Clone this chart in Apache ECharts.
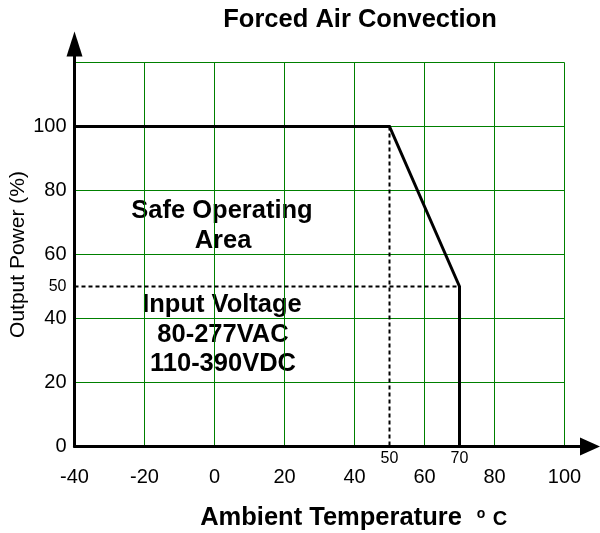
<!DOCTYPE html>
<html>
<head>
<meta charset="utf-8">
<script src="https://cdn.jsdelivr.net/npm/echarts@6/dist/echarts.min.js"></script>
<style>
html, body { margin: 0; padding: 0; background: #fff; }
#main { width: 600px; height: 533px; }
</style>
</head>
<body>
<div id="main"></div>
<script>
// derating curve
var curveTemp = [-40, 50, 70, 70];
var curvePower = [100, 100, 50, 0];
// dotted guide lines
var dropTemp = [50, 50];
var dropPower = [100, 0];
var halfTemp = [-40, 70];
var halfPower = [50, 50];
// tick labels (small ones drawn smaller)
var tempTicks = [-40, -20, 0, 20, 40, 50, 60, 70, 80, 100];
var powerTicks = [0, 20, 40, 50, 60, 80, 100];
var smallTemps = [50, 70];
var smallPowers = [50];

var FONT = '"Liberation Sans", Arial, sans-serif';
var GREEN = '#008000';

function pairs(xs, ys) {
    var out = [];
    xs.forEach(function (x, i) { out.push([x, ys[i]]); });
    return out;
}

var chart = echarts.init(document.getElementById('main'));

// grid sized so every grid line lands on a pixel centre (70px / 64px per step)
var option = {
    animation: false,
    backgroundColor: '#fff',
    grid: [
        {left: 74.5, right: 35.5, top: 62.5, bottom: 86.5, outerBoundsMode: 'none'},
        {left: 74.5, right: 10, top: 44, bottom: 86.5, outerBoundsMode: 'none'}
    ],
    xAxis: [
        {
            gridIndex: 0, type: 'value', min: -40, max: 100, interval: 20,
            axisLine: {show: false}, axisTick: {show: false},
            splitLine: {show: true, lineStyle: {color: GREEN, width: 1}},
            axisLabel: {
                customValues: tempTicks, margin: 5, color: '#000', fontFamily: FONT,
                formatter: function (v) {
                    if (smallTemps.indexOf(v) >= 0) return '{s|' + v + '}\n{b| }';
                    return '{s| }\n{b|' + v + '}';
                },
                rich: {
                    s: {fontSize: 16, lineHeight: 15, fontFamily: FONT, color: '#000'},
                    b: {fontSize: 20, lineHeight: 22, fontFamily: FONT, color: '#000'}
                }
            }
        },
        {
            gridIndex: 1, type: 'value', min: 0, max: 1,
            axisLine: {show: true, onZero: false, symbol: ['none', 'triangle'], symbolSize: [18, 20],
                lineStyle: {color: '#000', width: 3}},
            axisTick: {show: false}, axisLabel: {show: false}, splitLine: {show: false}
        }
    ],
    yAxis: [
        {
            gridIndex: 0, type: 'value', min: 0, max: 120, interval: 20,
            axisLine: {show: false}, axisTick: {show: false},
            splitLine: {show: true, lineStyle: {color: GREEN, width: 1}},
            axisLabel: {
                customValues: powerTicks, margin: 8, color: '#000', fontFamily: FONT, fontSize: 20,
                formatter: function (v) {
                    return smallPowers.indexOf(v) >= 0 ? '{s|' + v + '}' : String(v);
                },
                rich: {s: {fontSize: 16, fontFamily: FONT, color: '#000'}}
            },
            name: 'Output Power (%)', nameLocation: 'middle', nameGap: 46, nameMoveOverlap: false,
            nameTextStyle: {fontSize: 21, color: '#000', fontFamily: FONT}
        },
        {
            gridIndex: 1, type: 'value', min: 0, max: 1,
            axisLine: {show: true, onZero: false, symbol: ['none', 'triangle'], symbolSize: [16, 25],
                lineStyle: {color: '#000', width: 3}},
            axisTick: {show: false}, axisLabel: {show: false}, splitLine: {show: false}
        }
    ],
    series: [
        {
            type: 'line', xAxisIndex: 0, yAxisIndex: 0, symbol: 'none', z: 5,
            data: pairs(dropTemp, dropPower),
            lineStyle: {color: '#000', width: 2, type: [4, 3]}
        },
        {
            type: 'line', xAxisIndex: 0, yAxisIndex: 0, symbol: 'none', z: 5,
            data: pairs(halfTemp, halfPower),
            lineStyle: {color: '#000', width: 2, type: [4, 3]}
        },
        {
            type: 'line', xAxisIndex: 0, yAxisIndex: 0, symbol: 'none', z: 6,
            data: pairs(curveTemp, curvePower),
            lineStyle: {color: '#000', width: 3, join: 'miter'}
        }
    ],
    graphic: [
        {type: 'text', x: 360, y: 20, style: {text: 'Forced Air Convection', font: 'bold 25.5px ' + FONT, fill: '#000', align: 'center', verticalAlign: 'middle'}},
        {type: 'text', x: 222, y: 211, style: {text: 'Safe Operating', font: 'bold 25.5px ' + FONT, fill: '#000', align: 'center', verticalAlign: 'middle'}},
        {type: 'text', x: 223, y: 241, style: {text: 'Area', font: 'bold 25.5px ' + FONT, fill: '#000', align: 'center', verticalAlign: 'middle'}},
        {type: 'text', x: 222, y: 305, style: {text: 'Input Voltage', font: 'bold 25.5px ' + FONT, fill: '#000', align: 'center', verticalAlign: 'middle'}},
        {type: 'text', x: 223, y: 335, style: {text: '80-277VAC', font: 'bold 25.5px ' + FONT, fill: '#000', align: 'center', verticalAlign: 'middle'}},
        {type: 'text', x: 223, y: 364, style: {text: '110-390VDC', font: 'bold 25.5px ' + FONT, fill: '#000', align: 'center', verticalAlign: 'middle'}},
        {type: 'text', x: 331, y: 518, style: {text: 'Ambient Temperature', font: 'bold 25.5px ' + FONT, fill: '#000', align: 'center', verticalAlign: 'middle'}},
        {type: 'text', x: 481, y: 514, style: {text: 'o', font: 'bold 14px ' + FONT, fill: '#000', align: 'center', verticalAlign: 'middle'}},
        {type: 'text', x: 500, y: 519, style: {text: 'C', font: 'bold 20px ' + FONT, fill: '#000', align: 'center', verticalAlign: 'middle'}}
    ]
};

chart.setOption(option);
</script>
</body>
</html>
